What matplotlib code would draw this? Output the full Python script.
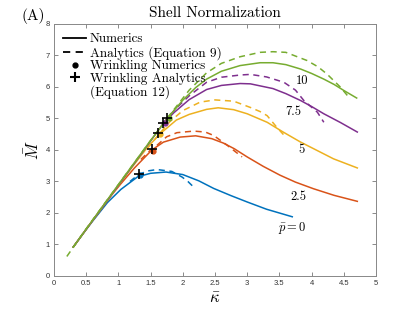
import matplotlib
matplotlib.use('Agg')
import matplotlib.pyplot as plt
from matplotlib.lines import Line2D

plt.rcParams['mathtext.fontset'] = 'cm'
plt.rcParams['axes.formatter.use_mathtext'] = True

#%% data
p_labels = ['$\\bar{p}=0$', '2.5', '5', '7.5', '10']
colors = ['#0072BD', '#D95319', '#EDB120', '#7E2F8E', '#77AC30']

# numerics (solid)
num_x = [
    [0.30, 0.45, 0.6, 0.83, 1.04, 1.30, 1.5, 1.74, 2.0, 2.25, 2.48, 2.75, 3.0, 3.3, 3.70],
    [0.30, 0.6, 0.9, 1.04, 1.25, 1.52, 1.7, 1.96, 2.2, 2.45, 2.63, 2.8, 3.0, 3.25, 3.51, 3.75, 4.03, 4.35, 4.71],
    [0.30, 0.8, 1.2, 1.45, 1.64, 1.9, 2.1, 2.37, 2.55, 2.79, 3.0, 3.31, 3.55, 3.83, 4.1, 4.34, 4.71],
    [0.30, 1.0, 1.4, 1.70, 1.86, 2.1, 2.37, 2.6, 2.89, 3.05, 3.4, 3.6, 3.83, 4.0, 4.19, 4.45, 4.71],
    [0.30, 1.0, 1.5, 1.76, 2.0, 2.2, 2.37, 2.6, 2.89, 3.2, 3.4, 3.6, 3.83, 4.0, 4.19, 4.35, 4.50, 4.70],
]
num_y = [
    [0.92, 1.34, 1.74, 2.33, 2.75, 3.15, 3.26, 3.30, 3.22, 3.02, 2.78, 2.55, 2.35, 2.12, 1.88],
    [0.92, 1.76, 2.58, 2.93, 3.43, 4.0, 4.25, 4.41, 4.45, 4.36, 4.22, 4.04, 3.78, 3.48, 3.2, 2.98, 2.77, 2.56, 2.37],
    [0.92, 2.32, 3.42, 4.08, 4.5, 4.95, 5.13, 5.29, 5.34, 5.28, 5.15, 4.88, 4.58, 4.25, 3.97, 3.72, 3.43],
    [0.92, 2.88, 4.0, 4.85, 5.18, 5.6, 5.92, 6.05, 6.11, 6.10, 5.95, 5.79, 5.57, 5.38, 5.15, 4.87, 4.57],
    [0.92, 2.9, 4.3, 5.0, 5.58, 5.98, 6.25, 6.5, 6.68, 6.77, 6.77, 6.71, 6.57, 6.43, 6.25, 6.08, 5.89, 5.65],
]

# analytics (dashed)
ana_x = [
    [1.18, 1.30, 1.44, 1.60, 1.83, 1.99, 2.08, 2.17],
    [1.35, 1.5, 1.6, 1.75, 1.91, 2.17, 2.35, 2.48, 2.69, 2.92],
    [1.45, 1.64, 1.8, 2.0, 2.27, 2.5, 2.79, 3.05, 3.2, 3.31, 3.46, 3.59],
    [1.7, 1.9, 2.1, 2.37, 2.6, 2.89, 3.05, 3.3, 3.57, 3.75, 3.88, 4.09, 4.19],
    [0.2, 0.5, 1.0, 1.5, 1.8, 2.1, 2.37, 2.6, 2.89, 3.2, 3.4, 3.6, 3.93, 4.1, 4.24, 4.45, 4.60],
]
ana_y = [
    [3.0, 3.2, 3.33, 3.38, 3.32, 3.14, 3.0, 2.82],
    [3.7, 4.0, 4.15, 4.42, 4.55, 4.6, 4.57, 4.46, 4.15, 3.78],
    [4.05, 4.52, 4.9, 5.25, 5.52, 5.59, 5.55, 5.35, 5.22, 5.09, 4.72, 4.43],
    [4.87, 5.33, 5.72, 6.15, 6.31, 6.38, 6.40, 6.32, 6.15, 5.9, 5.57, 5.2, 4.88],
    [0.62, 1.5, 2.9, 4.3, 5.12, 5.9, 6.45, 6.75, 6.96, 7.10, 7.12, 7.1, 6.84, 6.64, 6.41, 5.99, 5.62],
]

# wrinkling onset
wn_x = [1.34, 1.54, 1.64, 1.72, 1.78]
wn_y = [3.20, 3.98, 4.50, 4.85, 5.00]
wa_x = [1.32, 1.52, 1.62, 1.70, 1.76]
wa_y = [3.24, 4.03, 4.55, 4.86, 5.03]

# curve labels
lab_x = [3.70, 3.80, 3.85, 3.72, 3.85]
lab_y = [1.52, 2.50, 4.00, 5.22, 6.20]

#%% figure
fig = plt.figure(figsize=(4.15, 3.12), dpi=100)
ax = fig.add_axes([0.130, 0.1154, 0.776, 0.8077])

serif = 'cmr10'
for i in range(5):
    ax.plot(ana_x[i], ana_y[i], color=colors[i], lw=1.1, dashes=(4, 3))
    ax.plot(num_x[i], num_y[i], color=colors[i], lw=1.1)
for i in range(5):
    ax.plot(wn_x[i], wn_y[i], 'o', color=colors[i], ms=3.5)
    ax.plot(wa_x[i], wa_y[i], '+', color='black', ms=6.5, mew=1.2)
    ax.text(lab_x[i], lab_y[i], p_labels[i], fontsize=9, family=serif,
            ha='center', va='center')

ax.set_xlim(0, 5)
ax.set_ylim(0, 8)
ax.set_xticks([0, 0.5, 1, 1.5, 2, 2.5, 3, 3.5, 4, 4.5, 5])
ax.set_xticklabels(['0', '0.5', '1', '1.5', '2', '2.5', '3', '3.5', '4', '4.5', '5'])
ax.set_yticks(range(9))
ax.set_yticklabels([str(v) for v in range(9)])
ax.tick_params(direction='in', top=True, right=True, length=3, width=0.6,
               color='#777777', labelcolor='#333333', labelsize=5.5, pad=3)
for lbl in ax.get_xticklabels() + ax.get_yticklabels():
    lbl.set_family('Liberation Sans')
for s in ax.spines.values():
    s.set_color('#888888')
    s.set_linewidth(0.7)

ax.set_xlabel('$\\bar{\\kappa}$', fontsize=12, labelpad=1)
ax.set_ylabel('$\\bar{M}$', fontsize=12, labelpad=2)
ax.set_title('Shell Normalization', family=serif, fontsize=11, pad=5)
fig.text(0.053, 0.948, '(A)', family=serif, fontsize=11, va='center')

handles = [
    Line2D([], [], color='black', lw=1.3),
    Line2D([], [], color='black', lw=1.3, dashes=(4, 3)),
    Line2D([], [], color='black', marker='o', ms=3.5, ls='None'),
    Line2D([], [], color='black', marker='+', ms=7, mew=1.5, ls='None'),
    Line2D([], [], color='none'),
]
leg_labels = ['Numerics', 'Analytics (Equation 9)', 'Wrinkling Numerics',
              'Wrinkling Analytics', '(Equation 12)']
leg = ax.legend(handles, leg_labels, loc='upper left', frameon=False,
                prop={'family': serif, 'size': 9.5}, handlelength=1.75,
                handletextpad=0.25, labelspacing=0.03, borderaxespad=0.3,
                bbox_to_anchor=(0.0, 1.0))

fig.savefig('out.png', dpi=100)
